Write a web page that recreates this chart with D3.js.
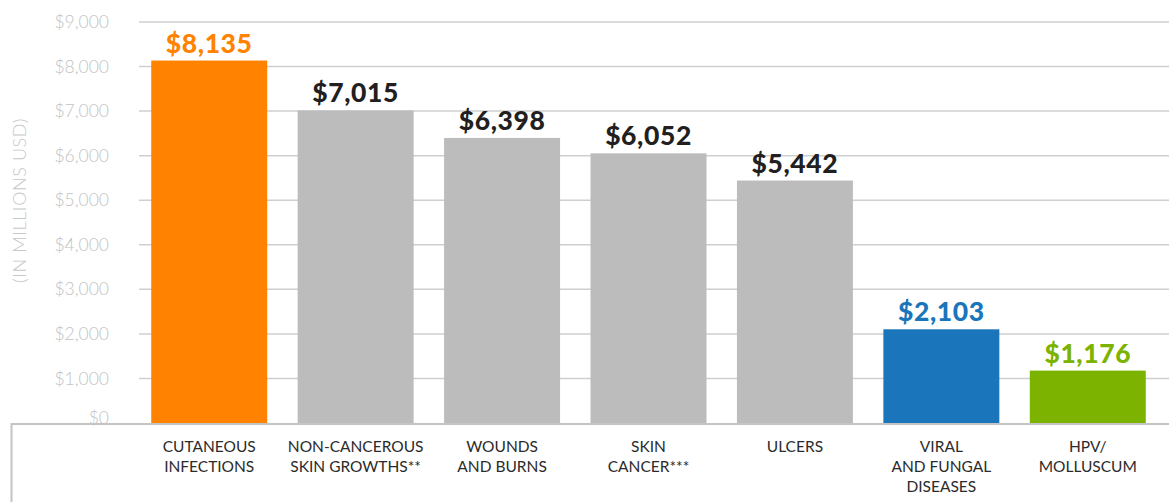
<!DOCTYPE html>
<html>
<head>
<meta charset="utf-8">
<script src="https://cdn.jsdelivr.net/npm/d3@7"></script>
<style>
  body { margin: 0; background: #fff; }
  svg { display: block; font-family: Lato, "Open Sans", sans-serif; }
</style>
</head>
<body>
<svg id="chart" width="1169" height="502"></svg>
<script>
// chart data
const categories = [
  "CUTANEOUS\nINFECTIONS",
  "NON-CANCEROUS\nSKIN GROWTHS**",
  "WOUNDS\nAND BURNS",
  "SKIN\nCANCER***",
  "ULCERS",
  "VIRAL\nAND FUNGAL\nDISEASES",
  "HPV/\nMOLLUSCUM"
];
const values = [8135, 7015, 6398, 6052, 5442, 2103, 1176];
const barColors = ["#ff8200", "#bdbcbd", "#bdbcbd", "#bdbcbd", "#bdbcbd", "#1b75bb", "#7bb300"];
const labelColors = ["#ff8200", "#231f20", "#231f20", "#231f20", "#231f20", "#1b75bb", "#7bb300"];
const yTicks = [0, 1000, 2000, 3000, 4000, 5000, 6000, 7000, 8000, 9000];

const width = 1169;
const height = 502;
const gridLeft = 139;
const plotLeft = 136;
const plotRight = 1161;
const plotTop = 22;
const plotBottom = 423;

const svg = d3.select('#chart');

const x = d3.scaleBand()
  .domain(categories)
  .range([plotLeft, plotRight])
  .paddingInner(0.208)
  .paddingOuter(0.104);

const y = d3.scaleLinear()
  .domain([0, 9000])
  .range([plotBottom, plotTop]);

const fmt = d3.format(",");

// gridlines
svg.append('g')
  .selectAll('line')
  .data(yTicks.filter(d => d > 0))
  .enter()
  .append('line')
  .attr('x1', gridLeft)
  .attr('x2', width)
  .attr('y1', d => y(d))
  .attr('y2', d => y(d))
  .attr('stroke', '#cfcfcf')
  .attr('stroke-width', 1.5);

// y axis tick labels
const yAxis = svg.append('g')
  .attr('transform', `translate(${gridLeft - 30}, 0)`)
  .call(d3.axisLeft(y).tickValues(yTicks).tickSize(0).tickPadding(0)
    .tickFormat(d => '$' + fmt(d)));
yAxis.select('.domain').remove();
yAxis.selectAll('text')
  .attr('fill', '#c2c2c2')
  .style('font-size', '17.5px')
  .style('font-weight', 300)
  .style('font-family', 'Lato, sans-serif');
yAxis.selectAll('.tick')
  .filter(d => d === 0)
  .select('text')
  .attr('dy', '0.05em');

// y axis title
svg.append('text')
  .attr('transform', `translate(26, ${(plotTop + plotBottom) / 2 - 22}) rotate(-90)`)
  .attr('text-anchor', 'middle')
  .attr('fill', '#c8c8c8')
  .style('font-size', '18px')
  .style('font-weight', 300)
  .style('letter-spacing', '0.6px')
  .text('(IN MILLIONS USD)');

// bars
const bars = svg.append('g')
  .selectAll('g')
  .data(values)
  .enter()
  .append('g');

bars.append('rect')
  .attr('x', (d, i) => x(categories[i]))
  .attr('y', d => y(d))
  .attr('width', x.bandwidth())
  .attr('height', d => y(0) - y(d))
  .attr('fill', (d, i) => barColors[i]);

// value labels
bars.append('text')
  .attr('x', (d, i) => x(categories[i]) + x.bandwidth() / 2)
  .attr('y', d => y(d) - 8)
  .attr('text-anchor', 'middle')
  .attr('fill', (d, i) => labelColors[i])
  .style('font-size', '26.5px')
  .style('font-weight', 900)
  .style('letter-spacing', '0.6px')
  .text(d => '$' + fmt(d));

// bottom frame
svg.append('path')
  .attr('d', `M11.5,${height} V${plotBottom + 1} H${width}`)
  .attr('fill', 'none')
  .attr('stroke', '#c4c4c4')
  .attr('stroke-width', 2);

// category labels
const catLabels = svg.append('g')
  .selectAll('text')
  .data(categories)
  .enter()
  .append('text')
  .attr('x', d => x(d) + x.bandwidth() / 2)
  .attr('y', 452)
  .attr('text-anchor', 'middle')
  .attr('fill', '#2b2b2b')
  .style('font-size', '15.5px');

catLabels.each(function (d) {
  const t = d3.select(this);
  d.split('\n').forEach((line, i) => {
    t.append('tspan')
      .attr('x', x(d) + x.bandwidth() / 2)
      .attr('dy', i === 0 ? 0 : 20)
      .text(line);
  });
});
</script>
</body>
</html>
